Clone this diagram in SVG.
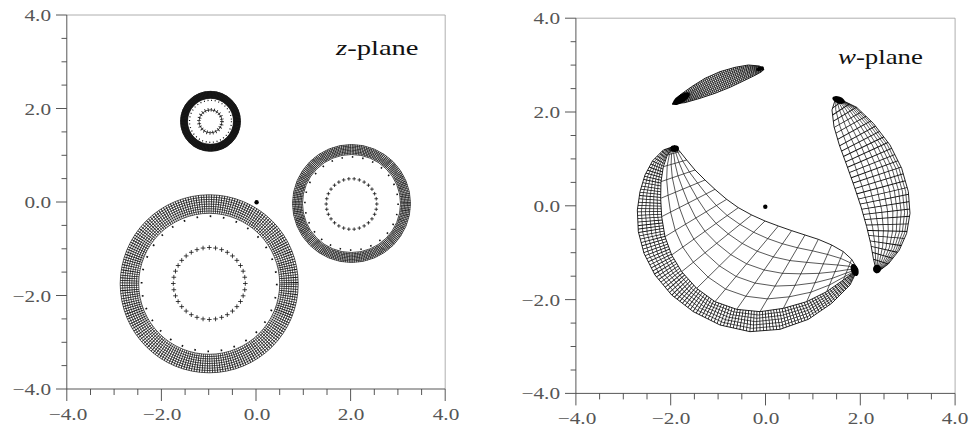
<svg xmlns="http://www.w3.org/2000/svg" xmlns:xlink="http://www.w3.org/1999/xlink" width="972" height="432" viewBox="0 0 972 432">
<style>
.bg{fill:#fff}
.fr{fill:none;stroke:#9a9a9a;stroke-width:0.8}
.ax{fill:none;stroke:#444;stroke-width:0.9}
.tk{font-family:"Liberation Serif","DejaVu Serif",serif;font-size:17px;fill:#555}
.tl{font-family:"Liberation Serif","DejaVu Serif",serif;font-size:22px;fill:#111}
.gl{fill:none;stroke:#111;stroke-width:0.7}
.rad{fill:none;stroke:#111}
.cr{fill:none;stroke:#111;stroke-width:0.8}
.gz{fill:none;stroke:#111;stroke-width:2.1}
.bz{fill:none;stroke:#000;stroke-width:2.6}
.dz{fill:none;stroke:#111}
.blob{fill:#000}
</style>
<defs>
<path id="pl" class="cr" d="M-2.3 0H2.3M0-2.3V2.3"/>
<path id="ps" class="cr" d="M-1.8 0H1.8M0-1.8V1.8"/>
<clipPath id="clipBand"><polygon points="135,18 112,45 100,80 93,125 92,175 95,230 105,290 125,345 155,395 200,445 255,485 320,508 390,515 460,505 530,485 590,455 640,420 683,388 660,435 605,490 535,538 450,568 360,575 270,555 190,515 125,465 75,405 42,340 25,275 22,210 30,155 45,105 68,62 100,30"/></clipPath>
<clipPath id="clipLobe"><polygon points="48,22 36,60 42,110 58,165 80,225 103,290 123,350 140,410 152,460 160,505 170,548 205,522 238,480 260,430 270,370 265,305 245,235 210,165 160,100 110,52"/></clipPath>
<clipPath id="clipTop"><polygon points="38,192 60,165 95,140 135,115 180,95 225,82 265,75 298,78 312,88 305,95 285,106 250,123 210,142 165,160 120,175 75,188"/></clipPath>
</defs>
<rect class="bg" x="0" y="0" width="972" height="432"/>

<!-- ============ LEFT PANEL: z-plane ============ -->
<g id="z-axes">
<path class="fr" d="M66.8 15H445.2V389"/>
<path class="ax" d="M66.8 15V389H445.2"/>
<path class="ax" d="M56 15H66.8M61.5 38.4H66.8M61.5 61.8H66.8M61.5 85.1H66.8M56 108.5H66.8M61.5 131.9H66.8M61.5 155.3H66.8M61.5 178.6H66.8M56 202H66.8M61.5 225.4H66.8M61.5 248.8H66.8M61.5 272.1H66.8M56 295.5H66.8M61.5 318.9H66.8M61.5 342.3H66.8M61.5 365.6H66.8M56 389H66.8"/>
<path class="ax" d="M66.8 389V401M90.5 389V395M114.1 389V395M137.8 389V395M161.4 389V401M185.1 389V395M208.7 389V395M232.4 389V395M256 389V401M279.7 389V395M303.3 389V395M327 389V395M350.6 389V401M374.3 389V395M397.9 389V395M421.6 389V395M445.2 389V401"/>
<g class="tk" text-anchor="end">
<text transform="translate(51 21) scale(1.25 1)">4.0</text>
<text transform="translate(51 114.5) scale(1.25 1)">2.0</text>
<text transform="translate(51 208) scale(1.25 1)">0.0</text>
<text transform="translate(51 301.5) scale(1.25 1)">−2.0</text>
<text transform="translate(51 395) scale(1.25 1)">−4.0</text>
</g>
<g class="tk" text-anchor="middle">
<text transform="translate(68 420) scale(1.25 1)">−4.0</text>
<text transform="translate(162 420) scale(1.25 1)">−2.0</text>
<text transform="translate(257 420) scale(1.25 1)">0.0</text>
<text transform="translate(351 420) scale(1.25 1)">2.0</text>
<text transform="translate(446 420) scale(1.25 1)">4.0</text>
</g>
<text class="tl" transform="translate(336 55) scale(1.3 1)"><tspan font-style="italic">z</tspan>-plane</text>
</g>

<g id="z-annulus-small">
<circle cx="210.5" cy="121.3" r="26.5" fill="none" stroke="#2a2a2a" stroke-width="7.4"/>
<g class="gl" stroke="#000" stroke-width="0.7">
<circle cx="210.5" cy="121.3" r="23"/><circle cx="210.5" cy="121.3" r="24"/><circle cx="210.5" cy="121.3" r="25"/><circle cx="210.5" cy="121.3" r="26"/><circle cx="210.5" cy="121.3" r="27"/><circle cx="210.5" cy="121.3" r="28"/><circle cx="210.5" cy="121.3" r="29"/><circle cx="210.5" cy="121.3" r="30"/>
</g>
<circle class="rad" cx="210.5" cy="121.3" r="26.5" stroke="#000" stroke-width="7" stroke-dasharray="0.6 0.78753"/>
<circle class="rad" cx="210.5" cy="121.3" r="21" stroke-width="1.3" stroke-dasharray="1 2.66519"/>
<circle class="cr" cx="210.5" cy="121.3" r="11.5" stroke-width="1.1"/>
<circle class="rad" cx="210.5" cy="121.3" r="11.5" stroke-width="3.8" stroke-dasharray="0.75 2.26069"/>
</g>

<g id="z-annulus-large">
<g class="gl">
<circle cx="209.2" cy="283.8" r="70.5"/><circle cx="209.2" cy="283.8" r="72.8"/><circle cx="209.2" cy="283.8" r="75.1"/><circle cx="209.2" cy="283.8" r="77.4"/><circle cx="209.2" cy="283.8" r="79.75"/><circle cx="209.2" cy="283.8" r="82.1"/><circle cx="209.2" cy="283.8" r="84.4"/><circle cx="209.2" cy="283.8" r="86.7"/><circle cx="209.2" cy="283.8" r="89"/>
</g>
<circle class="rad" cx="209.2" cy="283.8" r="79.75" stroke-width="18.5" stroke-dasharray="0.75 1.63612"/>
<circle class="rad" cx="209.2" cy="283.8" r="67.6" stroke-width="1.8" stroke-dasharray="1.6 11.6732"/>
<g id="z-crosses-large">
<use xlink:href="#pl" transform="translate(209.3 283.5) rotate(0) translate(36 0) rotate(0)"/>
<use xlink:href="#pl" transform="translate(209.3 283.5) rotate(10) translate(36 0) rotate(-10)"/>
<use xlink:href="#pl" transform="translate(209.3 283.5) rotate(20) translate(36 0) rotate(-20)"/>
<use xlink:href="#pl" transform="translate(209.3 283.5) rotate(30) translate(36 0) rotate(-30)"/>
<use xlink:href="#pl" transform="translate(209.3 283.5) rotate(40) translate(36 0) rotate(-40)"/>
<use xlink:href="#pl" transform="translate(209.3 283.5) rotate(50) translate(36 0) rotate(-50)"/>
<use xlink:href="#pl" transform="translate(209.3 283.5) rotate(60) translate(36 0) rotate(-60)"/>
<use xlink:href="#pl" transform="translate(209.3 283.5) rotate(70) translate(36 0) rotate(-70)"/>
<use xlink:href="#pl" transform="translate(209.3 283.5) rotate(80) translate(36 0) rotate(-80)"/>
<use xlink:href="#pl" transform="translate(209.3 283.5) rotate(90) translate(36 0) rotate(-90)"/>
<use xlink:href="#pl" transform="translate(209.3 283.5) rotate(100) translate(36 0) rotate(-100)"/>
<use xlink:href="#pl" transform="translate(209.3 283.5) rotate(110) translate(36 0) rotate(-110)"/>
<use xlink:href="#pl" transform="translate(209.3 283.5) rotate(120) translate(36 0) rotate(-120)"/>
<use xlink:href="#pl" transform="translate(209.3 283.5) rotate(130) translate(36 0) rotate(-130)"/>
<use xlink:href="#pl" transform="translate(209.3 283.5) rotate(140) translate(36 0) rotate(-140)"/>
<use xlink:href="#pl" transform="translate(209.3 283.5) rotate(150) translate(36 0) rotate(-150)"/>
<use xlink:href="#pl" transform="translate(209.3 283.5) rotate(160) translate(36 0) rotate(-160)"/>
<use xlink:href="#pl" transform="translate(209.3 283.5) rotate(170) translate(36 0) rotate(-170)"/>
<use xlink:href="#pl" transform="translate(209.3 283.5) rotate(180) translate(36 0) rotate(-180)"/>
<use xlink:href="#pl" transform="translate(209.3 283.5) rotate(190) translate(36 0) rotate(-190)"/>
<use xlink:href="#pl" transform="translate(209.3 283.5) rotate(200) translate(36 0) rotate(-200)"/>
<use xlink:href="#pl" transform="translate(209.3 283.5) rotate(210) translate(36 0) rotate(-210)"/>
<use xlink:href="#pl" transform="translate(209.3 283.5) rotate(220) translate(36 0) rotate(-220)"/>
<use xlink:href="#pl" transform="translate(209.3 283.5) rotate(230) translate(36 0) rotate(-230)"/>
<use xlink:href="#pl" transform="translate(209.3 283.5) rotate(240) translate(36 0) rotate(-240)"/>
<use xlink:href="#pl" transform="translate(209.3 283.5) rotate(250) translate(36 0) rotate(-250)"/>
<use xlink:href="#pl" transform="translate(209.3 283.5) rotate(260) translate(36 0) rotate(-260)"/>
<use xlink:href="#pl" transform="translate(209.3 283.5) rotate(270) translate(36 0) rotate(-270)"/>
<use xlink:href="#pl" transform="translate(209.3 283.5) rotate(280) translate(36 0) rotate(-280)"/>
<use xlink:href="#pl" transform="translate(209.3 283.5) rotate(290) translate(36 0) rotate(-290)"/>
<use xlink:href="#pl" transform="translate(209.3 283.5) rotate(300) translate(36 0) rotate(-300)"/>
<use xlink:href="#pl" transform="translate(209.3 283.5) rotate(310) translate(36 0) rotate(-310)"/>
<use xlink:href="#pl" transform="translate(209.3 283.5) rotate(320) translate(36 0) rotate(-320)"/>
<use xlink:href="#pl" transform="translate(209.3 283.5) rotate(330) translate(36 0) rotate(-330)"/>
<use xlink:href="#pl" transform="translate(209.3 283.5) rotate(340) translate(36 0) rotate(-340)"/>
<use xlink:href="#pl" transform="translate(209.3 283.5) rotate(350) translate(36 0) rotate(-350)"/>
</g>
</g>

<g id="z-annulus-right">
<g class="gl" stroke-width="0.55">
<circle cx="351.5" cy="203.5" r="49"/><circle cx="351.5" cy="203.5" r="50.43"/><circle cx="351.5" cy="203.5" r="51.86"/><circle cx="351.5" cy="203.5" r="53.29"/><circle cx="351.5" cy="203.5" r="54.71"/><circle cx="351.5" cy="203.5" r="56.14"/><circle cx="351.5" cy="203.5" r="57.57"/><circle cx="351.5" cy="203.5" r="59"/>
</g>
<circle class="rad" cx="351.5" cy="203.5" r="54" stroke-width="10" stroke-dasharray="0.6 1.09646"/>
<circle class="rad" cx="351.5" cy="203.5" r="46.6" stroke-width="1.6" stroke-dasharray="1.5 8.957"/>
<g id="z-crosses-right">
<use xlink:href="#ps" transform="translate(351.5 204) rotate(0) translate(25.3 0) rotate(0)"/>
<use xlink:href="#ps" transform="translate(351.5 204) rotate(12) translate(25.3 0) rotate(-12)"/>
<use xlink:href="#ps" transform="translate(351.5 204) rotate(24) translate(25.3 0) rotate(-24)"/>
<use xlink:href="#ps" transform="translate(351.5 204) rotate(36) translate(25.3 0) rotate(-36)"/>
<use xlink:href="#ps" transform="translate(351.5 204) rotate(48) translate(25.3 0) rotate(-48)"/>
<use xlink:href="#ps" transform="translate(351.5 204) rotate(60) translate(25.3 0) rotate(-60)"/>
<use xlink:href="#ps" transform="translate(351.5 204) rotate(72) translate(25.3 0) rotate(-72)"/>
<use xlink:href="#ps" transform="translate(351.5 204) rotate(84) translate(25.3 0) rotate(-84)"/>
<use xlink:href="#ps" transform="translate(351.5 204) rotate(96) translate(25.3 0) rotate(-96)"/>
<use xlink:href="#ps" transform="translate(351.5 204) rotate(108) translate(25.3 0) rotate(-108)"/>
<use xlink:href="#ps" transform="translate(351.5 204) rotate(120) translate(25.3 0) rotate(-120)"/>
<use xlink:href="#ps" transform="translate(351.5 204) rotate(132) translate(25.3 0) rotate(-132)"/>
<use xlink:href="#ps" transform="translate(351.5 204) rotate(144) translate(25.3 0) rotate(-144)"/>
<use xlink:href="#ps" transform="translate(351.5 204) rotate(156) translate(25.3 0) rotate(-156)"/>
<use xlink:href="#ps" transform="translate(351.5 204) rotate(168) translate(25.3 0) rotate(-168)"/>
<use xlink:href="#ps" transform="translate(351.5 204) rotate(180) translate(25.3 0) rotate(-180)"/>
<use xlink:href="#ps" transform="translate(351.5 204) rotate(192) translate(25.3 0) rotate(-192)"/>
<use xlink:href="#ps" transform="translate(351.5 204) rotate(204) translate(25.3 0) rotate(-204)"/>
<use xlink:href="#ps" transform="translate(351.5 204) rotate(216) translate(25.3 0) rotate(-216)"/>
<use xlink:href="#ps" transform="translate(351.5 204) rotate(228) translate(25.3 0) rotate(-228)"/>
<use xlink:href="#ps" transform="translate(351.5 204) rotate(240) translate(25.3 0) rotate(-240)"/>
<use xlink:href="#ps" transform="translate(351.5 204) rotate(252) translate(25.3 0) rotate(-252)"/>
<use xlink:href="#ps" transform="translate(351.5 204) rotate(264) translate(25.3 0) rotate(-264)"/>
<use xlink:href="#ps" transform="translate(351.5 204) rotate(276) translate(25.3 0) rotate(-276)"/>
<use xlink:href="#ps" transform="translate(351.5 204) rotate(288) translate(25.3 0) rotate(-288)"/>
<use xlink:href="#ps" transform="translate(351.5 204) rotate(300) translate(25.3 0) rotate(-300)"/>
<use xlink:href="#ps" transform="translate(351.5 204) rotate(312) translate(25.3 0) rotate(-312)"/>
<use xlink:href="#ps" transform="translate(351.5 204) rotate(324) translate(25.3 0) rotate(-324)"/>
<use xlink:href="#ps" transform="translate(351.5 204) rotate(336) translate(25.3 0) rotate(-336)"/>
<use xlink:href="#ps" transform="translate(351.5 204) rotate(348) translate(25.3 0) rotate(-348)"/>
</g>
</g>
<circle id="z-origin" cx="256.6" cy="202.3" r="2.2" fill="#000"/>

<!-- ============ RIGHT PANEL: w-plane ============ -->
<g id="w-axes">
<path class="fr" d="M575.9 18.2H955.1V393.4"/>
<path class="ax" d="M575.9 18.2V393.4H955.1"/>
<path class="ax" d="M565 18.2H575.9M570.6 41.7H575.9M570.6 65.1H575.9M570.6 88.6H575.9M565 112H575.9M570.6 135.5H575.9M570.6 158.9H575.9M570.6 182.4H575.9M565 205.8H575.9M570.6 229.3H575.9M570.6 252.7H575.9M570.6 276.2H575.9M565 299.6H575.9M570.6 323.1H575.9M570.6 346.5H575.9M570.6 370H575.9M565 393.4H575.9"/>
<path class="ax" d="M575.9 393.4V405.4M599.6 393.4V399.4M623.3 393.4V399.4M647 393.4V399.4M670.7 393.4V405.4M694.4 393.4V399.4M718.1 393.4V399.4M741.8 393.4V399.4M765.5 393.4V405.4M789.2 393.4V399.4M812.9 393.4V399.4M836.6 393.4V399.4M860.3 393.4V405.4M884 393.4V399.4M907.7 393.4V399.4M931.4 393.4V399.4M955.1 393.4V405.4"/>
<g class="tk" text-anchor="end">
<text transform="translate(560 24.2) scale(1.25 1)">4.0</text>
<text transform="translate(560 118) scale(1.25 1)">2.0</text>
<text transform="translate(560 211.8) scale(1.25 1)">0.0</text>
<text transform="translate(560 305.6) scale(1.25 1)">−2.0</text>
<text transform="translate(560 399.4) scale(1.25 1)">−4.0</text>
</g>
<g class="tk" text-anchor="middle">
<text transform="translate(577 424) scale(1.25 1)">−4.0</text>
<text transform="translate(671 424) scale(1.25 1)">−2.0</text>
<text transform="translate(766 424) scale(1.25 1)">0.0</text>
<text transform="translate(861 424) scale(1.25 1)">2.0</text>
<text transform="translate(955 424) scale(1.25 1)">4.0</text>
</g>
<text class="tl" transform="translate(838 63.5) scale(1.22 1)"><tspan font-style="italic">w</tspan>-plane</text>
</g>

<g id="w-crescent" transform="translate(630 140) scale(0.33333)">
<g class="gz">
<polyline points="135,18 143.7,36.7 158.3,63.3 178,95.8 202.8,129.2 228.3,161.7 259.2,196.7 291.7,226.7 330,253.3 370.8,276.7 413.3,295.8 457.5,311.3 502.5,323.3 547.5,332.5 592.5,343.3 631.7,355 660.8,368.3 683,388"/>
<polyline points="135,18 137.3,38.3 146.7,66.7 161,101.7 180.7,138.3 201.7,175.3 228.3,215.3 258.3,250.3 295,281.7 336.7,310.3 381.7,333.7 430,350.7 480,361.7 530,367 580,371.7 623.3,375 656.7,378.7 683,388"/>
<polyline points="135,18 131,40 135,70 144,107.5 158.5,147.5 175,189 197.5,234 225,274 260,310 302.5,344 350,371.5 402.5,390 457.5,400 512.5,401.5 567.5,400 615,395 652.5,389 683,388"/>
<polyline points="135,18 124.7,41.7 123.3,73.3 127,113.3 136.3,156.7 148.3,202.7 166.7,252.7 191.7,297.7 225,338.3 268.3,377.7 318.3,409.3 375,429.3 435,438.3 495,436 555,428.3 606.7,415 648.3,399.3 683,388"/>
<polyline points="135,18 118.3,43.3 111.7,76.7 110,119.2 114.2,165.8 121.7,216.3 135.8,271.3 158.3,321.3 190,366.7 234.2,411.3 286.7,447.2 347.5,468.7 412.5,476.7 477.5,470.5 542.5,456.7 598.3,435 644.2,409.7 683,388"/>
<path d="M150,35L112,45M170,60L100,80M195,90L93,125M225,120L92,175M255,148L95,230M290,178L105,290M325,203L125,345M365,225L155,395M405,243L200,445M445,258L255,485M485,272L320,508M525,285L390,515M565,298L460,505M605,315L530,485M640,335L590,455M665,358L640,420"/>
<polyline points="135,18 110,42.5 94.7,77 85,121.7 81.7,171.7 82.8,226.7 91.7,287.5 111.2,344.2 141.7,396.7 187.5,448.3 244.2,490 311.7,515.8 385,525 458.3,515.5 530.8,493.8 592.5,460.8 643.3,422.5 683,388"/>
<polyline points="135,18 108,40 89.3,74 77,118.3 71.3,168.3 70.7,223.3 78.3,285 97.3,343.3 128.3,398.3 175,451.7 233.3,495 303.3,523.7 380,535 456.7,526 531.7,502.7 595,466.7 646.7,425 683,388"/>
<polyline points="135,18 106,37.5 84,71 69,115 61,165 58.5,220 65,282.5 83.5,342.5 115,400 162.5,455 222.5,500 295,531.5 375,545 455,536.5 532.5,511.5 597.5,472.5 650,427.5 683,388"/>
<polyline points="135,18 104,35 78.7,68 61,111.7 50.7,161.7 46.3,216.7 51.7,280 69.7,341.7 101.7,401.7 150,458.3 211.7,505 286.7,539.3 370,555 453.3,547 533.3,520.3 600,478.3 653.3,430 683,388"/>
<polyline points="135,18 102,32.5 73.3,65 53,108.3 40.3,158.3 34.2,213.3 38.3,277.5 55.8,340.8 88.3,403.3 137.5,461.7 200.8,510 278.3,547.2 365,565 451.7,557.5 534.2,529.2 602.5,484.2 656.7,432.5 683,388"/>
</g>
<path class="dz" clip-path="url(#clipBand)" stroke-width="110" stroke-dasharray="2.4 6.8" d="M135,18 L120.5,27.75 Q106,37.5 95,54.25 Q84,71 76.5,93 Q69,115 65,140 Q61,165 59.75,192.5 Q58.5,220 61.75,251.25 Q65,282.5 74.25,312.5 Q83.5,342.5 99.25,371.25 Q115,400 138.75,427.5 Q162.5,455 192.5,477.5 Q222.5,500 258.75,515.75 Q295,531.5 335,538.25 Q375,545 415,540.75 Q455,536.5 493.75,524 Q532.5,511.5 565,492 Q597.5,472.5 623.75,450 Q650,427.5 666.5,407.75 L683,388"/>
<g class="bz">
<polyline points="135,18 150,35 170,60 195,90 225,120 255,148 290,178 325,203 365,225 405,243 445,258 485,272 525,285 565,298 605,315 640,335 665,358 683,388"/>
<polyline points="135,18 112,45 100,80 93,125 92,175 95,230 105,290 125,345 155,395 200,445 255,485 320,508 390,515 460,505 530,485 590,455 640,420 683,388"/>
<polyline points="135,18 100,30 68,62 45,105 30,155 22,210 25,275 42,340 75,405 125,465 190,515 270,555 360,575 450,568 535,538 605,490 660,435 683,388"/>
</g>
<ellipse class="blob" cx="134" cy="26" rx="13" ry="10"/>
<ellipse class="blob" cx="674" cy="390" rx="11" ry="19" transform="rotate(-20 674 390)"/>
</g>

<g id="w-lobe-right" transform="translate(820 90) scale(0.33333)">
<g class="gz">
<polyline points="48,22 47.1,58.8 59.7,108.5 80.8,165 104.75,226.5 127.3,292.25 145.05,353 158,413 164.9,463 166.75,507.55 170,548"/>
<polyline points="48,22 57.5,57.7 76.2,107.1 102.1,165 127.9,227.9 150,294.4 165.6,355.8 174.8,415.8 176.9,465.8 173,509.9 170,548"/>
<polyline points="48,22 67.1,56.6 91.6,105.8 121.8,165 149.3,229.2 171,296.3 184.7,358.4 190.4,418.4 188.1,468.4 178.9,512.1 170,548"/>
<polyline points="48,22 76,55.7 105.7,104.6 140.1,165 169.1,230.4 190.5,298.1 202.4,360.8 204.8,420.8 198.4,470.8 184.3,514.2 170,548"/>
<polyline points="48,22 84.1,54.8 118.7,103.5 156.8,165 187.25,231.5 208.3,299.75 218.55,363 218,423 207.9,473 189.25,516 170,548"/>
<polyline points="48,22 90.8,54.1 129.3,102.6 170.5,165 202.1,232.4 222.9,301.1 231.8,364.8 228.8,424.8 215.6,474.8 193.3,517.6 170,548"/>
<polyline points="48,22 96.7,53.4 138.8,101.8 182.6,165 215.3,233.2 235.8,302.3 243.5,366.4 238.4,426.4 222.5,476.4 196.9,518.9 170,548"/>
<polyline points="48,22 101.9,52.9 147,101.1 193.3,165 226.85,233.9 247.2,303.35 253.8,367.8 246.8,427.8 228.5,477.8 200,520.1 170,548"/>
<polyline points="48,22 106.3,52.4 154.1,100.5 202.4,165 236.75,234.5 256.9,304.25 262.65,369 254,429 233.7,479 202.75,521.15 170,548"/>
</g>
<path class="dz" clip-path="url(#clipLobe)" stroke-width="220" stroke-dasharray="2.6 16.2" d="M48,22 L60.5,39 Q73,56 87,80.5 Q101,105 117.5,135 Q134,165 148.25,197.5 Q162.5,230 173.25,263.75 Q184,297.5 190.25,328.75 Q196.5,360 198.25,390 Q200,420 197.5,445 Q195,470 188.75,491.75 Q182.5,513.5 176.25,530.75 L170,548"/>
<polygon class="bz" points="48,22 36,60 42,110 58,165 80,225 103,290 123,350 140,410 152,460 160,505 170,548 205,522 238,480 260,430 270,370 265,305 245,235 210,165 160,100 110,52"/>
<ellipse class="blob" cx="56" cy="30" rx="20" ry="10" transform="rotate(20 56 30)"/>
<ellipse class="blob" cx="171" cy="537" rx="12" ry="13"/>
</g>

<g id="w-lobe-top" transform="translate(660 40) scale(0.33333)">
<g class="gz" stroke-width="2.1">
<polyline points="38,192 61.5,167.3 97.5,143.5 138,119.5 183,99.7 227.5,86.1 267,78.1 298.7,79.7 312,88"/>
<polyline points="38,192 63,169.6 100,147 141,124 186,104.4 230,90.2 269,81.2 299.4,81.4 312,88"/>
<polyline points="38,192 64.5,171.9 102.5,150.5 144,128.5 189,109.1 232.5,94.3 271,84.3 300.1,83.1 312,88"/>
<polyline points="38,192 66,174.2 105,154 147,133 192,113.8 235,98.4 273,87.4 300.8,84.8 312,88"/>
<polyline points="38,192 67.5,176.5 107.5,157.5 150,137.5 195,118.5 237.5,102.5 275,90.5 301.5,86.5 312,88"/>
<polyline points="38,192 69,178.8 110,161 153,142 198,123.2 240,106.6 277,93.6 302.2,88.2 312,88"/>
<polyline points="38,192 70.5,181.1 112.5,164.5 156,146.5 201,127.9 242.5,110.7 279,96.7 302.9,89.9 312,88"/>
<polyline points="38,192 72,183.4 115,168 159,151 204,132.6 245,114.8 281,99.8 303.6,91.6 312,88"/>
<polyline points="38,192 73.5,185.7 117.5,171.5 162,155.5 207,137.3 247.5,118.9 283,102.9 304.3,93.3 312,88"/>
</g>
<path class="dz" clip-path="url(#clipTop)" stroke-width="90" stroke-dasharray="2.2 3.7" d="M38,192 L52.75,184.25 Q67.5,176.5 87.5,167 Q107.5,157.5 128.75,147.5 Q150,137.5 172.5,128 Q195,118.5 216.25,110.5 Q237.5,102.5 256.25,96.5 Q275,90.5 288.25,88.5 Q301.5,86.5 306.75,87.25 L312,88"/>
<polygon class="bz" points="38,192 60,165 95,140 135,115 180,95 225,82 265,75 298,78 312,88 305,95 285,106 250,123 210,142 165,160 120,175 75,188"/>
<ellipse class="blob" cx="64" cy="176" rx="30" ry="12" transform="rotate(-33 64 176)"/>
<ellipse class="blob" cx="300" cy="86" rx="12" ry="6" transform="rotate(-20 300 86)"/>
</g>
<circle id="w-origin" cx="765.3" cy="206.8" r="2.2" fill="#000"/>
</svg>
